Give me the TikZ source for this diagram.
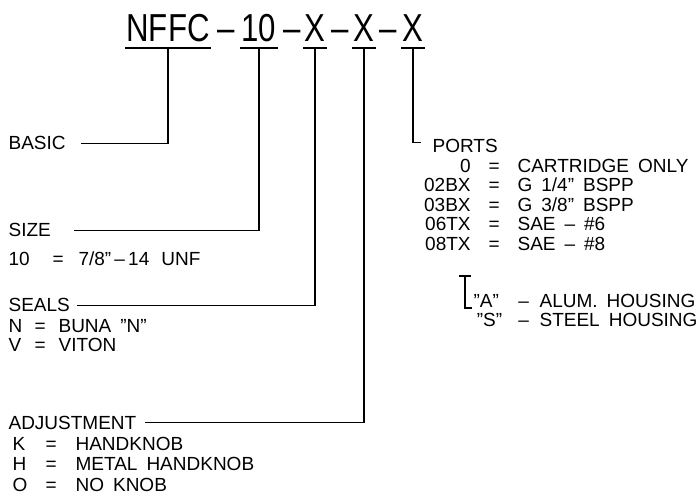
\documentclass[tikz,border=0pt]{standalone}
\usepackage{fontspec}
\newfontfamily\cadfont{Liberation Sans}
\newfontfamily\cadtitle[FakeStretch=0.8]{Liberation Sans}
\newcommand{\gap}{\hspace{9pt}}
% code, "=" and value on one line
\newcommand{\coderow}[4]{\makebox[#1][r]{#2}\makebox[#3]{=}#4}
\newcommand{\codeleft}[4]{\makebox[#1][l]{#2}\makebox[#3]{=}#4}

\begin{document}
\begin{tikzpicture}[x=1pt,y=-1pt,line width=1.2pt,line cap=rect,
  title/.style={anchor=base,inner sep=0pt,font=\cadtitle\fontsize{39}{39}\selectfont},
  lbl/.style={anchor=base west,inner sep=0pt,font=\cadfont\fontsize{19}{19}\selectfont}]
\useasboundingbox (0,0) rectangle (696,502);

% part number
\node[title] (nffc) at (168,42) {NFFC};
\node[title] (da) at (226,42) {–};
\node[title] (ten) at (259,42) {10};
\node[title] (db) at (292,42) {–};
\node[title] (xa) at (315,42) {X};
\node[title] (dc) at (340,42) {–};
\node[title] (xb) at (364,42) {X};
\node[title] (dd) at (388,42) {–};
\node[title] (xc) at (413,42) {X};

% left labels
\node[lbl] (basic) at (8,150) {BASIC};
\node[lbl] (size) at (8,237) {SIZE};
\node[lbl] (sizeval) at (8,266) {\codeleft{29pt}{10}{41pt}{7/8”\,–\,14\hspace{12pt}UNF}};
\node[lbl] (seals) at (8,312) {SEALS};
\node[lbl] (sealn) at (8,333) {\codeleft{13pt}{N}{37pt}{BUNA\gap ”N”}};
\node[lbl] (sealv) at (8,352) {\codeleft{13pt}{V}{37pt}{VITON}};
\node[lbl] (adj) at (8,429) {ADJUSTMENT};
\node[lbl] (adjk) at (12,450) {\codeleft{14pt}{K}{49pt}{HANDKNOB}};
\node[lbl] (adjh) at (12,470) {\codeleft{14pt}{H}{49pt}{METAL\gap HANDKNOB}};
\node[lbl] (adjo) at (12,491) {\codeleft{14pt}{O}{49pt}{NO\gap KNOB}};

% ports
\node[lbl] (ports) at (432,153) {PORTS};
\node[lbl] (pa) at (420,173) {\coderow{50pt}{0}{47pt}{CARTRIDGE\gap ONLY}};
\node[lbl] (pb) at (420,192) {\coderow{50pt}{02BX}{47pt}{G\gap 1/4”\gap BSPP}};
\node[lbl] (pc) at (420,212) {\coderow{50pt}{03BX}{47pt}{G\gap 3/8”\gap BSPP}};
\node[lbl] (pd) at (420,231) {\coderow{50pt}{06TX}{47pt}{SAE\gap –\gap \#6}};
\node[lbl] (pe) at (420,251) {\coderow{50pt}{08TX}{47pt}{SAE\gap –\gap \#8}};

% housing
\node[lbl] (ha) at (473,308) {\makebox[34pt][l]{”A”}\makebox[32pt]{–}ALUM.\gap HOUSING};
\node[lbl] (hs) at (473,327) {\makebox[34pt][l]{\,”S”}\makebox[32pt]{–}STEEL\gap HOUSING};

% bars under the part number
\foreach \p in {nffc,ten,xa,xb,xc}
  \draw ([yshift=-6pt]\p.base west) -- ([yshift=-6pt]\p.base east);

% leaders
\draw ([yshift=-6pt]nffc.base) |- ([xshift=15pt]basic.east);
\draw ([yshift=-6pt]ten.base) |- ([xshift=23pt]size.east);
\draw ([yshift=-6pt]xa.base) |- ([xshift=7pt]seals.east);
\draw ([yshift=-6pt]xb.base) |- ([xshift=9pt]adj.east);
\draw ([yshift=-6pt]xc.base) |- ([xshift=-12pt,yshift=4pt]ports.west);

% housing mark
\coordinate (hm) at (465,276);
\draw ([xshift=-5pt]hm) -- ([xshift=5pt]hm);
\draw (hm) |- ([xshift=-2pt]ha.base west);
\end{tikzpicture}
\end{document}
